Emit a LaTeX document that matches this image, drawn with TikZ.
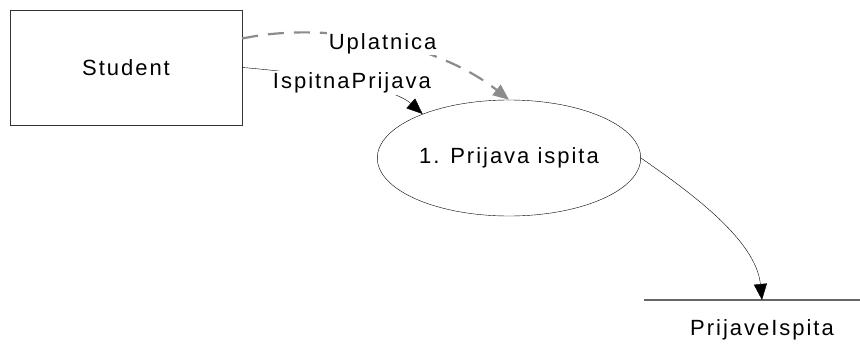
\documentclass[tikz,border=0pt]{standalone}
\usepackage{fontspec}
\setmainfont[LetterSpace=9]{Liberation Sans}
\usetikzlibrary{shapes.geometric,arrows.meta}

\begin{document}
\begin{tikzpicture}[x=1pt,y=-1pt]
\tikzset{entitet/.style={draw=black!80, minimum width=232pt, minimum height=115pt},
  proces/.style={draw, ellipse, minimum width=232pt, minimum height=116pt},
  tok/.style={-{Triangle[length=16pt,width=13pt]}},
  uplata/.style={tok, draw=black!45, line width=2.2pt, dash pattern=on 16pt off 10pt},
  natpis/.style={fill=white, inner sep=1.5pt, font=\fontsize{22}{25}\selectfont}}
\useasboundingbox (0,0) rectangle (860,356);
\node[entitet, font=\fontsize{22}{25}\selectfont] (S) at (126,67.5) {Student};
\node[proces, font=\fontsize{22}{25}\selectfont] (P1) at (509,158) {1. Prijava ispita};
\coordinate (D1w) at (644,300);
\coordinate (D1e) at (860,300);
\draw[black!60, line width=1.4pt] (D1w) -- (D1e);
\node[natpis] (D1) at (762,330) {PrijaveIspita};
\draw[uplata] (S.14) .. controls (330,20) and (440,45) .. (P1.north)
  node[natpis, pos=0.5, yshift=-2pt] (U1) {Uplatnica};
\draw[tok] (S.east) .. controls (300,72) and (390,85) .. (P1.153)
  node[natpis, pos=0.55, yshift=1pt] (I1) {IspitnaPrijava};
\draw[tok] (P1.east) .. controls (690,192) and (756,240) .. (D1.north |- D1w);
\end{tikzpicture}
\end{document}
